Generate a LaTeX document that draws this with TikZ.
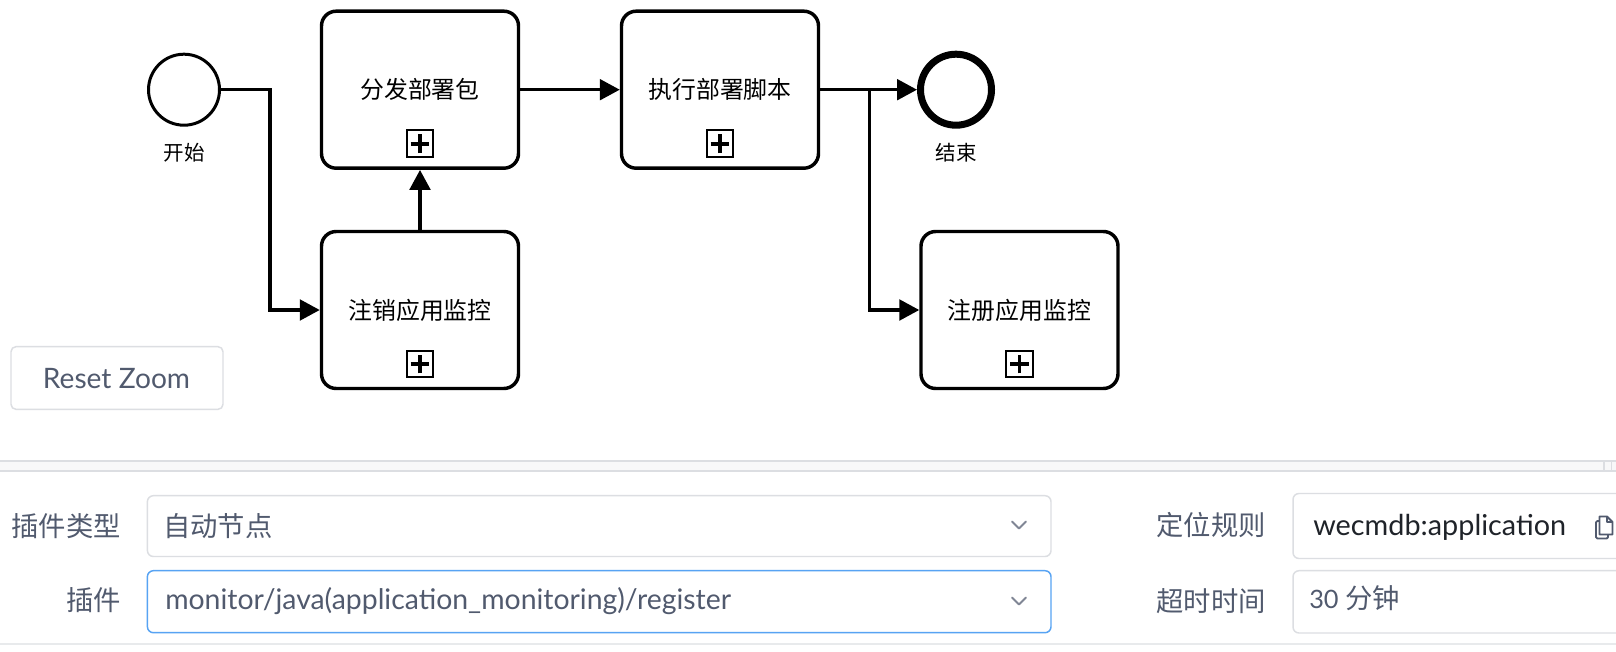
\documentclass[tikz,border=0pt]{standalone}
\usepackage{fontspec}
\setmainfont{Lato}
\newfontfamily\cjk{Noto Sans CJK SC}
\usetikzlibrary{arrows.meta,calc}
\definecolor{txtgray}{HTML}{515A6E}
\definecolor{bordergray}{HTML}{DCDEE2}
\definecolor{focusblue}{HTML}{57A3F3}
\definecolor{chevgray}{HTML}{808695}
\definecolor{bandfill}{HTML}{F8F8F9}
\definecolor{lightline}{HTML}{E8EAEC}
\definecolor{valdark}{HTML}{1F2329}
\newcommand\bpmnfont{\cjk\fontsize{17.9pt}{21pt}\selectfont}
\newcommand\evfont{\cjk\fontsize{15.4pt}{18pt}\selectfont}
\newcommand\lblfont{\cjk\fontsize{20.5pt}{24pt}\selectfont}
\newcommand\valfont{\fontsize{19pt}{23pt}\selectfont}
\begin{document}
\begin{tikzpicture}[x=0.75pt,y=-0.75pt,
  task/.style={draw, line width=2.6pt, rounded corners=11pt, minimum width=147.75pt,
    minimum height=117.75pt, inner sep=0, font=\bpmnfont},
  event/.style={draw, circle, minimum size=53.25pt, inner sep=0},
  startev/.style={event, line width=2.25pt},
  endev/.style={event, line width=5.25pt},
  evlabel/.style={font=\evfont, inner sep=0},
  plusmark/.style={draw, line width=1.5pt, minimum size=20pt, inner sep=0,
    path picture={
      \draw[line width=2.8pt] ([xshift=-7pt]path picture bounding box.center) -- ([xshift=7pt]path picture bounding box.center);
      \draw[line width=2.8pt] ([yshift=-7pt]path picture bounding box.center) -- ([yshift=7pt]path picture bounding box.center);}},
  flow/.style={line width=2.5pt, -{Triangle[length=15pt,width=15.5pt]}},
  btnbox/.style={draw=bordergray, line width=1.1pt, rounded corners=3.75pt, minimum width=159pt, minimum height=47pt, inner sep=0},
  field/.style={draw=bordergray, line width=1.1pt, rounded corners=4.5pt},
  focusfield/.style={draw=focusblue, line width=1.1pt, rounded corners=4.5pt},
  lbl/.style={font=\lblfont, text=txtgray, inner sep=0, anchor=base east},
  val/.style={font=\valfont, text=txtgray, inner sep=0, anchor=base west},
  chev/.style={draw=chevgray, line width=1.5pt, line cap=round, line join=round},
  icon/.style={draw=txtgray, line width=1.4pt, line join=round}
]
\useasboundingbox (0,0) rectangle (1616,652);
\fill[white] (0,0) rectangle (1616,652);

% ---------- BPMN diagram ----------
\node[startev] (S) at (184,89.7) {};
\node[evlabel] (Slab) at (184,153) {开始};
\node[task] (B1) at (420,89.7) {分发部署包};
\node[task] (B2) at (720,89.7) {执行部署脚本};
\node[endev] (E) at (956,89.7) {};
\node[evlabel] (Elab) at (956,153) {结束};
\node[task] (B3) at (420,310) {注销应用监控};
\node[task] (B4) at (1019.5,310) {注册应用监控};
\foreach \b in {B1,B2,B3,B4} \node[plusmark] (P\b) at ($(\b.center)+(0,54)$) {};

\coordinate (J1) at (270,89.7);
\coordinate (J2) at (869.5,89.7);
\draw[flow] (S) -- (J1) |- (B3);
\draw[flow] (B3) -- (B1);
\draw[flow] (B1) -- (B2);
\draw[flow] (B2) -- (E);
\draw[flow] (J2) |- (B4);

% ---------- Reset Zoom button ----------
\node[btnbox] (RZ) at (117,378) {};
\node[font=\fontsize{21.1pt}{25pt}\selectfont, text=txtgray, inner sep=0, anchor=base] (RZt) at (116.5,388) {Reset Zoom};

% ---------- separator ----------
\fill[bandfill] (0,461) rectangle (1616,471);
\draw[bordergray, line width=1pt] (0,461) -- (1616,461) (0,471) -- (1616,471);
\draw[bordergray, line width=1pt] (1604,461) -- (1604,471) (1611.5,461) -- (1611.5,471);
\draw[lightline, line width=1.5pt] (0,644) -- (1616,644);

% ---------- form ----------
\draw[field] (147.4,495.7) rectangle (1051,556.5);
\draw[focusfield] (147.4,570.7) rectangle (1051,632.7);
\draw[field] (1293,493.5) rectangle (1650,558.5);
\draw[field] (1293,570.7) rectangle (1650,633);

\node[lbl] (L1) at (121,536.5) {插件类型};
\node[lbl] (L2) at (121,610.5) {插件};
\node[lbl] (L3) at (1266,535.5) {定位规则};
\node[lbl] (L4) at (1266,611) {超时时间};

\node[val, font=\lblfont] (V1) at (163,536.5) {自动节点};
\node[val, font=\fontsize{21.3pt}{25pt}\selectfont] (V2) at (165,609.5) {monitor/java(application\_monitoring)/register};
\node[val, text=valdark, font=\fontsize{21.6pt}{25pt}\selectfont] (V3) at (1313,535) {wecmdb:application};
\node[val] (V4) at (1309,608.3) {30 {\lblfont 分钟}};

\draw[chev] (1012,521.5) -- (1019,528.5) -- (1026,521.5);
\draw[chev] (1012,597.5) -- (1019,604.5) -- (1026,597.5);

% copy icon
\draw[icon, rounded corners=1pt] (1596,521) rectangle (1608,538.5);
\filldraw[icon, fill=white] (1599.5,516.5) -- (1607,516.5) -- (1612.5,522) -- (1612.5,534.5) -- (1599.5,534.5) -- cycle;
\draw[icon] (1607,516.5) -- (1607,522) -- (1612.5,522);
\end{tikzpicture}
\end{document}
